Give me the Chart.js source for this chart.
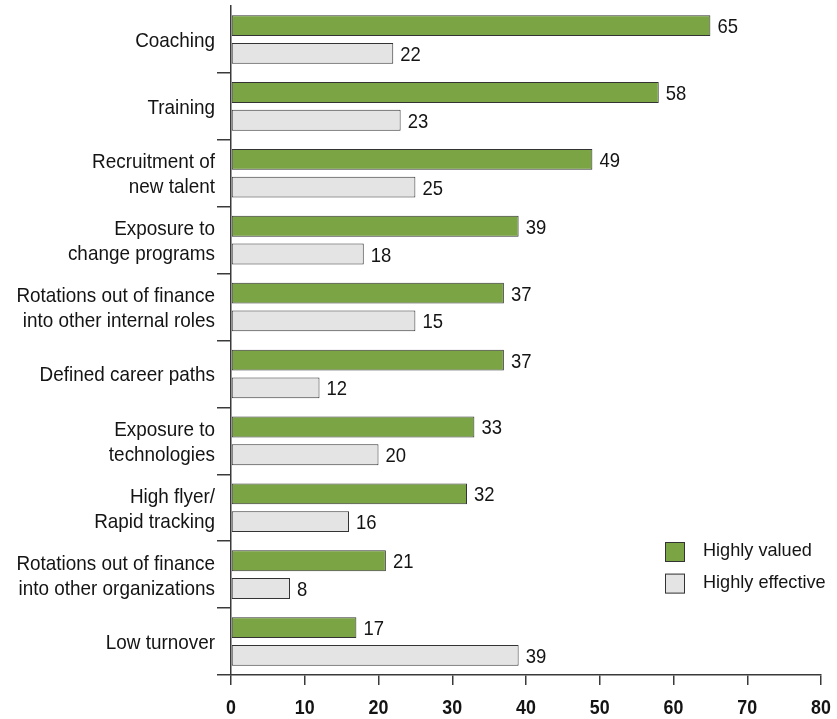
<!DOCTYPE html>
<html lang="en">
<head>
  <meta charset="UTF-8">
  <meta name="viewport" content="width=device-width, initial-scale=1.0">
  <title>Highly valued vs highly effective</title>
  <script src="https://cdn.jsdelivr.net/npm/chart.js"></script>
  <style>
    body {
      margin: 0;
      background: #fff;
    }
    .container {
      width: 837px;
      height: 719px;
    }
  </style>
</head>
<body>
  <div class="container">
    <canvas id="myChart" width="837" height="719"></canvas>
  </div>
  <script>
    const categories = [
      'Coaching',
      'Training',
      ['Recruitment of', 'new talent'],
      ['Exposure to', 'change programs'],
      ['Rotations out of finance', 'into other internal roles'],
      'Defined career paths',
      ['Exposure to', 'technologies'],
      ['High flyer/', 'Rapid tracking'],
      ['Rotations out of finance', 'into other organizations'],
      'Low turnover'
    ]
    const highlyValued = [65, 58, 49, 39, 37, 37, 33, 32, 21, 17]
    // the source draws the 5th grey bar out to ~25 although its label reads 15
    const highlyEffective = [22, 23, 25, 18, 25, 12, 20, 16, 8, 39]
    const valuedText = ['65', '58', '49', '39', '37', '37', '33', '32', '21', '17']
    const effectiveText = ['22', '23', '25', '18', '15', '12', '20', '16', '8', '39']
    const xMin = 0
    const xMax = 80
    const xStep = 10

    // the original uses a condensed grotesque; squeeze Liberation Sans to get close
    const FONT = "'Liberation Sans', Arial, sans-serif"
    const INK = '#141414'
    const LINE = '#3a3a3a'

    function squeezeText(ctx, text, x, y, sx, align) {
      ctx.save()
      ctx.translate(x, y)
      ctx.scale(sx, 1)
      ctx.textAlign = align
      ctx.textBaseline = 'alphabetic'
      ctx.fillText(text, 0, 0)
      ctx.restore()
    }

    // category names, x tick numbers and bar values
    const textLayer = {
      id: 'textLayer',
      afterDatasetsDraw(chart) {
        const ctx = chart.ctx
        const xs = chart.scales.x
        const ys = chart.scales.y
        ctx.save()
        ctx.fillStyle = INK

        ctx.font = `21px ${FONT}`
        categories.forEach((cat, i) => {
          const lines = Array.isArray(cat) ? cat : [cat]
          const yc = ys.getPixelForTick(i)
          lines.forEach((line, k) => {
            const y = yc - (lines.length - 1) * 12.5 + k * 25 + 7.5
            squeezeText(ctx, line, ys.right - 16, y, 0.9, 'right')
          })
        })

        ctx.font = `bold 21px ${FONT}`
        xs.ticks.forEach(t => {
          squeezeText(ctx, String(t.value), xs.getPixelForValue(t.value), chart.height - 5, 0.85, 'center')
        })

        ctx.font = `21px ${FONT}`
        chart.data.datasets.forEach((ds, i) => {
          chart.getDatasetMeta(i).data.forEach((bar, j) => {
            squeezeText(ctx, ds.valueText[j], bar.x + 7, bar.y + 7.5, 0.88, 'left')
          })
        })
        ctx.restore()
      }
    }

    // legend sits inside the plot, lower right
    const boxLegend = {
      id: 'boxLegend',
      afterDraw(chart) {
        const { ctx, chartArea } = chart
        const x = chartArea.right - 156
        let y = chartArea.bottom - 133
        ctx.save()
        chart.data.datasets.forEach(ds => {
          ctx.fillStyle = ds.backgroundColor
          ctx.fillRect(x, y, 20, 20)
          ctx.strokeStyle = ds.borderColor
          ctx.lineWidth = 1
          ctx.strokeRect(x + 0.5, y + 0.5, 19, 19)
          ctx.fillStyle = INK
          ctx.font = `18.5px ${FONT}`
          squeezeText(ctx, ds.label, x + 38, y + 14, 0.98, 'left')
          y += 31.6
        })
        ctx.restore()
      }
    }

    const ctx = document.getElementById('myChart')
    new Chart(ctx, {
      type: 'bar',
      data: {
        labels: categories,
        datasets: [{
          label: 'Highly valued',
          data: highlyValued,
          valueText: valuedText,
          backgroundColor: '#7ba545',
          borderColor: '#333333',
          borderWidth: 1,
          borderSkipped: false,
          categoryPercentage: 0.83,
          barPercentage: 0.75
        }, {
          label: 'Highly effective',
          data: highlyEffective,
          valueText: effectiveText,
          backgroundColor: '#e4e4e4',
          borderColor: '#333333',
          borderWidth: 1,
          borderSkipped: false,
          categoryPercentage: 0.83,
          barPercentage: 0.75
        }]
      },
      options: {
        indexAxis: 'y',
        responsive: false,
        animation: false,
        layout: {
          padding: { top: 6, right: 16, left: 0, bottom: 0 }
        },
        plugins: {
          legend: { display: false },
          tooltip: { enabled: false }
        },
        scales: {
          x: {
            min: xMin,
            max: xMax,
            ticks: { stepSize: xStep, display: false },
            grid: {
              drawOnChartArea: false,
              tickLength: 10,
              color: LINE,
              lineWidth: 1.5
            },
            border: { color: LINE, width: 1.5 },
            afterFit(scale) {
              scale.height = 44
              scale.paddingLeft = 0
              scale.paddingRight = 0
            }
          },
          y: {
            ticks: { display: false },
            grid: {
              drawOnChartArea: false,
              tickLength: 14,
              color: c => c.index === 0 ? 'rgba(0,0,0,0)' : LINE,
              lineWidth: 1.5
            },
            border: { color: LINE, width: 1.5 },
            afterFit(scale) {
              scale.width = 231
              scale.paddingTop = 0
              scale.paddingBottom = 0
            }
          }
        }
      },
      plugins: [textLayer, boxLegend]
    })
  </script>
</body>
</html>
